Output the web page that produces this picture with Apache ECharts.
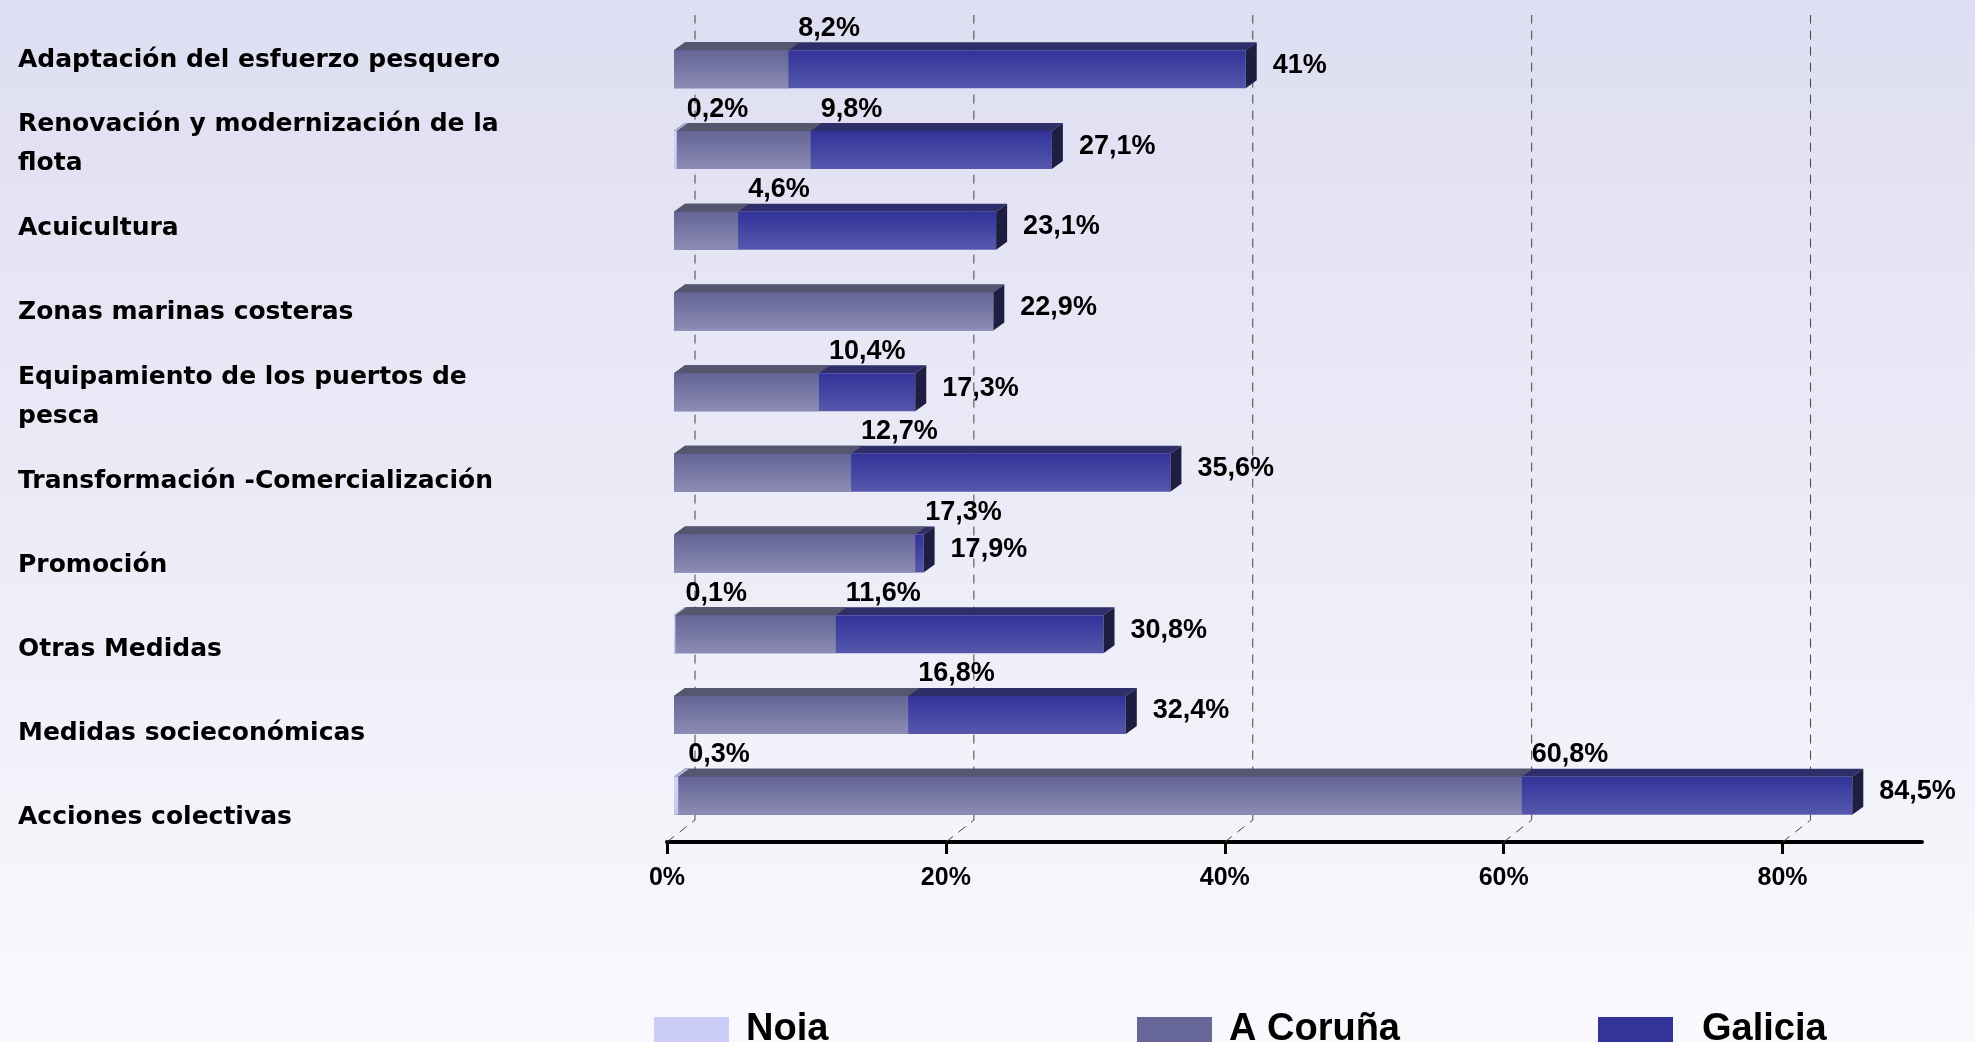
<!DOCTYPE html>
<html>
<head>
<meta charset="utf-8">
<title>Medidas</title>
<script src="https://cdn.jsdelivr.net/npm/echarts@6/dist/echarts.min.js"></script>
<style>
html, body { margin: 0; padding: 0; }
#main { width: 1975px; height: 1042px; }
</style>
</head>
<body>
<div id="main"></div>
<script>
// datos
var categories = [
    'Adaptación del esfuerzo pesquero',
    'Renovación y modernización de la\nflota',
    'Acuicultura',
    'Zonas marinas costeras',
    'Equipamiento de los puertos de\npesca',
    'Transformación -Comercialización',
    'Promoción',
    'Otras Medidas',
    'Medidas socieconómicas',
    'Acciones colectivas'
];
var noiaValues    = [null, 0.2, null, null, null, null, null, 0.1, null, 0.3];
var corunaValues  = [8.2, 9.8, 4.6, 22.9, 10.4, 12.7, 17.3, 11.6, 16.8, 60.8];
var galiciaValues = [41, 27.1, 23.1, 22.9, 17.3, 35.6, 17.9, 30.8, 32.4, 84.5];
var xTicks = [0, 20, 40, 60, 80];

var BAR_H = 38, SHIFT = 7, DX = 11, DY = 8;
var LABEL_FONT = 'bold 27px "Liberation Sans", Arial, sans-serif';

function pct(v) {
    return String(v).replace('.', ',') + '%';
}

function toData(arr) {
    var out = [];
    for (var i = 0; i < arr.length; i++) {
        if (arr[i] != null) out.push([arr[i], i]);
    }
    return out;
}

// barra con efecto 3D (cara frontal, tapa superior y lateral)
function makeRender(front, top, side, labelMode) {
    return function (params, api) {
        var v = api.value(0), idx = api.value(1);
        var x0 = api.coord([0, idx])[0] + SHIFT;
        var p = api.coord([v, idx]);
        var x1 = p[0] + SHIFT;
        var y0 = p[1] - BAR_H / 2;
        var children = [
            {
                type: 'polygon',
                shape: { points: [[x0, y0], [x0 + DX, y0 - DY], [x1 + DX, y0 - DY], [x1, y0]] },
                style: { fill: top }
            },
            {
                type: 'rect',
                shape: { x: x0, y: y0, width: x1 - x0, height: BAR_H },
                style: {
                    fill: new echarts.graphic.LinearGradient(0, 0, 0, 1, [
                        { offset: 0, color: front[0] },
                        { offset: 1, color: front[1] }
                    ])
                }
            }
        ];
        if (side) {
            children.push({
                type: 'polygon',
                shape: { points: [[x1, y0], [x1 + DX, y0 - DY], [x1 + DX, y0 + BAR_H - DY], [x1, y0 + BAR_H]] },
                style: { fill: side }
            });
        }
        if (labelMode === 'right') {
            children.push({
                type: 'text',
                style: { text: pct(v), x: x1 + DX + 16, y: p[1] - 4, font: LABEL_FONT, fill: '#000', align: 'left', verticalAlign: 'middle' }
            });
        } else if (labelMode === 'top' && !(params.seriesName === 'A Coruña' && galiciaValues[idx] === v)) {
            children.push({
                type: 'text',
                style: { text: pct(v), x: x1 + 10, y: p[1] - 41, font: LABEL_FONT, fill: '#000', align: 'left', verticalAlign: 'middle' }
            });
        }
        return { type: 'group', children: children };
    };
}

var myChart = echarts.init(document.getElementById('main'));

var option = {
    backgroundColor: new echarts.graphic.LinearGradient(0, 0, 0, 1, [
        { offset: 0, color: '#DEDEF2' },
        { offset: 1, color: '#F9F9FD' }
    ]),
    animation: false,
    grid: [
        { left: 667, right: 53, top: 29, bottom: 206 },
        { left: 500, right: 1400, top: 18, bottom: 182 }
    ],
    xAxis: [{
        gridIndex: 0,
        type: 'value',
        min: 0,
        max: 90,
        interval: 20,
        offset: 6,
        splitLine: { show: false },
        axisLine: { show: true, lineStyle: { color: '#000', width: 4 } },
        axisTick: { show: true, customValues: xTicks, length: 12, lineStyle: { color: '#000', width: 3 } },
        axisLabel: {
            customValues: xTicks,
            formatter: '{value}%',
            margin: 24,
            color: '#000',
            fontSize: 25,
            fontWeight: 'bold',
            fontFamily: '"Liberation Sans", Arial, sans-serif'
        }
    }, {
        gridIndex: 1, type: 'value', min: 0, max: 1, show: false
    }],
    yAxis: [{
        gridIndex: 0,
        type: 'category',
        data: categories,
        inverse: true,
        axisLine: { show: false },
        axisTick: { show: false },
        axisLabel: { show: false }
    }, {
        gridIndex: 1,
        type: 'category',
        data: categories,
        inverse: true,
        axisLine: { show: false },
        axisTick: { show: false },
        axisLabel: {
            align: 'left',
            margin: 482,
            color: '#000',
            fontSize: 25,
            fontWeight: 'bold',
            lineHeight: 39,
            fontFamily: '"DejaVu Sans", sans-serif'
        }
    }],
    legend: [
        { data: ['Noia'], left: 654, top: 1011, gap: 12 },
        { data: ['A Coruña'], left: 1137, top: 1011, gap: 12 },
        { data: ['Galicia'], left: 1598, top: 1011, gap: 24 }
    ].map(function (l) {
        l.icon = 'rect';
        l.itemWidth = 75;
        l.itemHeight = 26;
        l.padding = 0;
        l.selectedMode = false;
        l.textStyle = { fontSize: 38, fontWeight: 'bold', color: '#000', padding: [0, 0, 0, l.gap], fontFamily: '"Liberation Sans", Arial, sans-serif' };
        delete l.gap;
        return l;
    }),
    series: [
        {
            name: 'rejilla',
            type: 'custom',
            silent: true,
            z: 1,
            data: xTicks.map(function (t) { return [t, 0]; }),
            renderItem: function (params, api) {
                var x = api.coord([api.value(0), 0])[0];
                var cs = params.coordSys;
                var yb = cs.y + cs.height + 6;
                return {
                    type: 'polyline',
                    shape: { points: [[x, yb], [x + 28, yb - 22], [x + 28, 15]] },
                    style: { stroke: '#444', lineWidth: 1, lineDash: [9, 7], fill: null }
                };
            }
        },
        {
            name: 'Galicia',
            type: 'custom',
            z: 2,
            itemStyle: { color: '#333399' },
            data: toData(galiciaValues),
            renderItem: makeRender(['#32329A', '#5658AC'], '#2E2E6A', '#1E1E42', 'right')
        },
        {
            name: 'A Coruña',
            type: 'custom',
            z: 3,
            itemStyle: { color: '#666699' },
            data: toData(corunaValues),
            renderItem: makeRender(['#646496', '#8C8CB4'], '#56566F', null, 'top')
        },
        {
            name: 'Noia',
            type: 'custom',
            z: 4,
            itemStyle: { color: '#CCCCF8' },
            data: toData(noiaValues),
            renderItem: makeRender(['#D4D4FA', '#C4C4F0'], '#B4B4DC', null, 'top')
        }
    ]
};

myChart.setOption(option);
</script>
</body>
</html>
